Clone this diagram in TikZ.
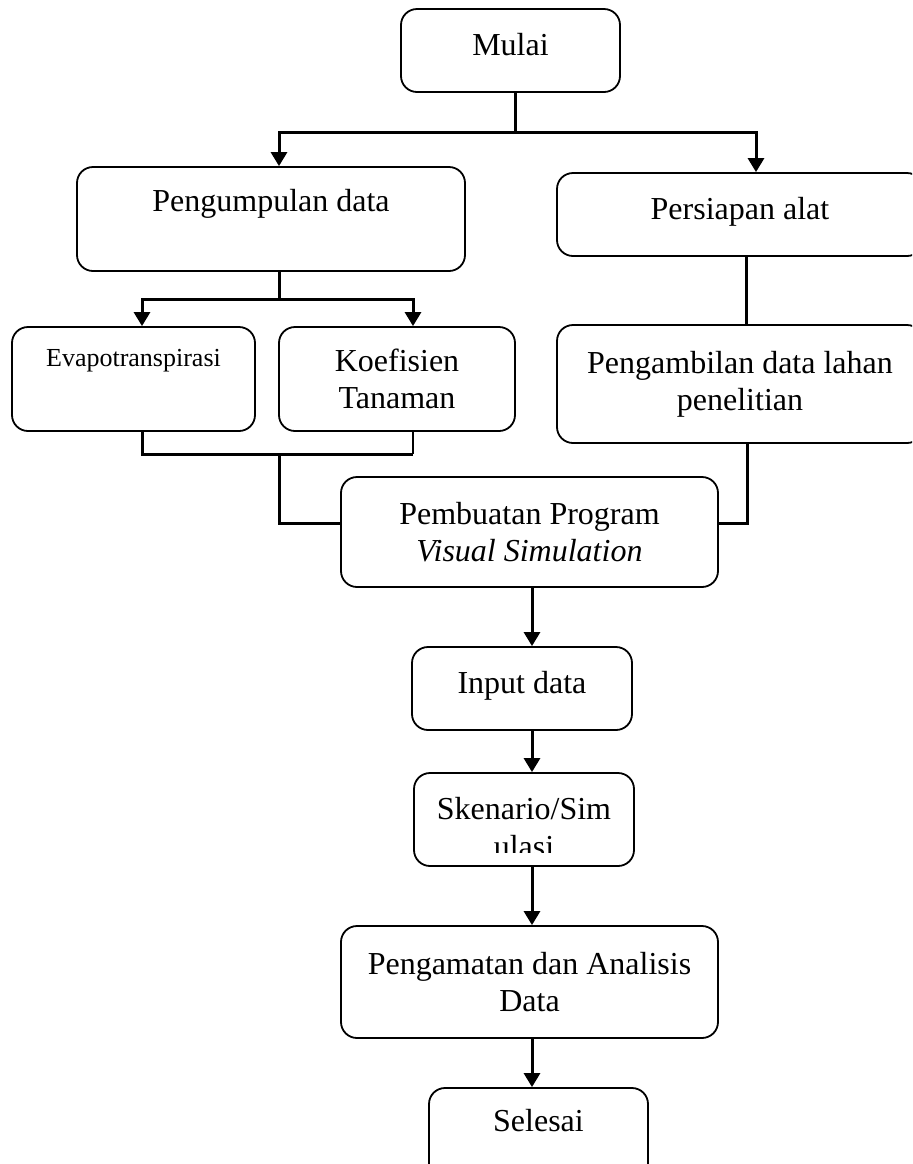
\documentclass[tikz,border=0pt]{standalone}
\usepackage{fontspec}
\setmainfont{Liberation Serif}
\usetikzlibrary{arrows.meta}

\tikzset{
    box/.style={draw, rounded corners=8pt, line width=0.9pt, align=center, inner sep=0pt,
        font=\fontsize{16pt}{18.5pt}\selectfont},
    lift/.style={text depth=6pt},
    line/.style={line width=1.5pt},
    thinline/.style={line width=0.6pt},
    arr/.style={line width=1.5pt, -{Triangle[length=7pt,width=8pt]}}
}

\begin{document}
\begin{tikzpicture}[x=0.5pt,y=-0.5pt]
    \clip (0,0) rectangle (912,1164);
    % boxes
    \node[box, lift, minimum width=109.5pt, minimum height=41.5pt] (mulai) at (510.5,50.5) {Mulai};
    \node[box, minimum width=194pt, minimum height=52pt] (kumpul) at (271,219) {Pengumpulan data\\~};
    \node[box, lift, minimum width=183pt, minimum height=41.5pt] (alat) at (740,214.5) {Persiapan alat};
    \node[box, minimum width=121.5pt, minimum height=52pt, font=\fontsize{13pt}{15pt}\selectfont] (evapo) at (133.5,379) {Evapotranspirasi\\[6pt]~};
    \node[box, minimum width=118pt, minimum height=52pt] (koef) at (397,379) {Koefisien\\Tanaman};
    \node[box, minimum width=183pt, minimum height=59pt] (ambil) at (740,384) {Pengambilan data lahan\\penelitian};
    \node[box, minimum width=188.5pt, minimum height=55pt] (pemb) at (529.5,532) {Pembuatan Program\\\textit{Visual Simulation}};
    \node[box, lift, minimum width=110pt, minimum height=41.5pt] (input) at (522,688.5) {Input data};
    \node[box, minimum width=110pt, minimum height=46.5pt] (sken) at (524,819.5) {};
    \begin{scope}
        \clip (414,773) rectangle (634,852);
        \node[align=center, inner sep=0pt, font=\fontsize{16pt}{18.5pt}\selectfont] (skentext) at (524,828) {Skenario/Sim\\[0.5pt]ulasi};
    \end{scope}
    \node[box, minimum width=188.5pt, minimum height=56pt] (amat) at (529.5,982) {Pengamatan dan Analisis\\Data};
    \node[box, minimum width=109.5pt, minimum height=51pt] (selesai) at (538.5,1139) {Selesai\\~};

    % junction points
    \coordinate (j1) at (515,132);
    \coordinate (l1) at (279,132);
    \coordinate (r1) at (756,132);
    \coordinate (j2) at (279,299);
    \coordinate (l2) at (142,299);
    \coordinate (r2) at (413,299);
    \coordinate (k1) at (746,0);
    \coordinate (m1) at (142,454);
    \coordinate (m2) at (413,454);
    \coordinate (m3) at (279,454);
    \coordinate (m4) at (279,523);
    \coordinate (m5) at (747,523);
    \coordinate (ax) at (532,0);

    % connectors
    \draw[line] (mulai.south -| j1) -- (j1);
    \draw[arr] (j1) -- (l1) -- (l1 |- kumpul.north);
    \draw[arr] (j1) -- (r1) -- (r1 |- alat.north);
    \draw[line] (kumpul.south -| j2) -- (j2);
    \draw[arr] (j2) -- (l2) -- (l2 |- evapo.north);
    \draw[arr] (j2) -- (r2) -- (r2 |- koef.north);
    \draw[line] (alat.south -| k1) -- (ambil.north -| k1);
    \draw[line] (evapo.south -| m1) -- (m1) -- (m2);
    \draw[thinline] (koef.south -| m2) -- (m2);
    \draw[line] (m3) |- (pemb.west |- m4);
    \draw[line] (ambil.south -| m5) -- (m5) -- (pemb.east |- m5);
    \draw[arr] (pemb.south -| ax) -- (input.north -| ax);
    \draw[arr] (input.south -| ax) -- (sken.north -| ax);
    \draw[arr] (sken.south -| ax) -- (amat.north -| ax);
    \draw[arr] (amat.south -| ax) -- (selesai.north -| ax);
\end{tikzpicture}
\end{document}
